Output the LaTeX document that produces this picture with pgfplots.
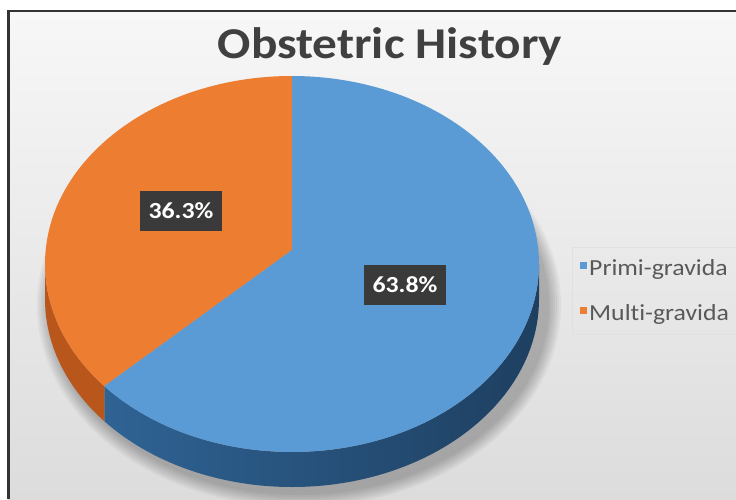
\documentclass[border=0pt]{standalone}
\usepackage{fontspec}
\setmainfont{Carlito}[FakeStretch=1.12, Ligatures=NoCommon]
\usepackage{pgfplots}
\usepackage{pgfplotstable}
\pgfplotsset{compat=1.18}

\definecolor{pieblue}{HTML}{5B9BD5}
\definecolor{pieorange}{HTML}{ED7D31}
\definecolor{sideblueL}{HTML}{2F6394}
\definecolor{sideblueR}{HTML}{1E3F60}
\definecolor{sideorange}{HTML}{B9561C}
\definecolor{labelbg}{HTML}{3A3A3A}
\definecolor{titlegray}{HTML}{404040}
\definecolor{bgtop}{HTML}{F7F7F7}
\definecolor{bgbot}{HTML}{DCDCDC}

\pgfplotstableread{
label value
Primi-gravida 63.8
Multi-gravida 36.3
}\piedata

\begin{document}
\begin{tikzpicture}
\pgfplotstablegetelem{0}{value}\of\piedata \edef\vA{\pgfplotsretval}
\pgfplotstablegetelem{1}{value}\of\piedata \edef\vB{\pgfplotsretval}
\pgfmathsetmacro\angB{90+360*\vB/(\vA+\vB)}
\pgfmathsetmacro\px{292+247*cos(\angB)}
\pgfmathsetmacro\py{235+188*sin(\angB)}
\begin{axis}[
  width=736pt, height=499pt, scale only axis,
  xmin=0, xmax=736, ymin=0, ymax=499,
  hide axis,
  legend style={at={(axis cs:572,252)}, anchor=north west,
    draw=black!12, fill=none, text=black!65,
    font=\fontsize{23}{27}\selectfont,
    row sep=24pt, inner xsep=8pt, inner ysep=10pt,
    cells={anchor=west}},
  legend image code/.code={\fill[#1] (2pt,-1pt) rectangle (9pt,6pt);},
]
% background
\fill[white] (0,0) rectangle (736,499);
\path[top color=bgtop, bottom color=bgbot] (8,0) rectangle (736,488);
\draw[line width=2.5pt, black!80] (7,488) -- (736,488);
\draw[line width=2.5pt, black!80] (8.5,0) -- (8.5,489);

% soft shadow
\pgfplotsinvokeforeach{0,...,6}{
  \fill[black, opacity=0.04] (299,194) ellipse[x radius={250pt+2pt*#1}, y radius={190pt+2pt*#1}];
}

% sides
\path[left color=sideblueL, right color=sideblueR]
  (\px,\py) arc[start angle=\angB, end angle=360, x radius=247pt, y radius=188pt]
  -- ++(0pt,-35pt) arc[start angle=360, end angle=\angB, x radius=247pt, y radius=188pt] -- cycle;
\fill[sideorange]
  (45,235) arc[start angle=180, end angle=\angB, x radius=247pt, y radius=188pt]
  -- ++(0pt,-35pt) arc[start angle=\angB, end angle=180, x radius=247pt, y radius=188pt] -- cycle;

% top surfaces
\fill[pieorange] (292,249) -- (292,423)
  arc[start angle=90, end angle=\angB, x radius=247pt, y radius=188pt] -- cycle;
\fill[pieblue] (292,249) -- (\px,\py)
  arc[start angle=\angB, end angle=450, x radius=247pt, y radius=188pt] -- cycle;

% data labels
\node[fill=labelbg, text=white, font=\fontsize{23}{26}\selectfont\bfseries,
  inner xsep=9pt, inner ysep=0pt, minimum height=40pt] at (181,288) {36.3\%};
\node[fill=labelbg, text=white, font=\fontsize{23}{26}\selectfont\bfseries,
  inner xsep=9pt, inner ysep=0pt, minimum height=40pt] at (405,214) {63.8\%};

% title
\node[text=titlegray, font=\fontsize{44}{50}\selectfont\bfseries] at (390,452) {Obstetric History};

\addlegendimage{fill=pieblue, draw=none}
\addlegendentry{Primi-gravida}
\addlegendimage{fill=pieorange, draw=none}
\addlegendentry{Multi-gravida}
\end{axis}
\pgfresetboundingbox
\path[use as bounding box] (current axis.south west) rectangle (current axis.north east);
\end{tikzpicture}
\end{document}
